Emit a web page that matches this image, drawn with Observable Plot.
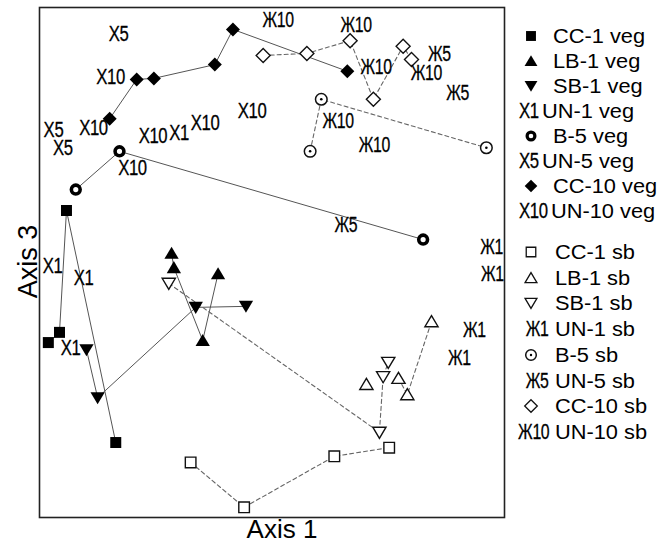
<!DOCTYPE html>
<html><head><meta charset="utf-8">
<script src="https://cdn.jsdelivr.net/npm/d3@7"></script>
<script src="https://cdn.jsdelivr.net/npm/@observablehq/plot@0.6"></script>
<style>
body{margin:0;background:#fff;}
#wrap{position:relative;width:669px;height:543px;font-family:"Liberation Sans",Arial,sans-serif;}
.row{position:absolute;left:0;width:669px;height:24px;}
.row > *{position:absolute;top:0;line-height:24px;white-space:nowrap;color:#000;}
.ltxt{font-size:20px;display:inline-block;transform:scaleX(1.09);transform-origin:0 50%;}
.lsym{font-size:22px;display:inline-block;letter-spacing:-0.5px;-webkit-text-stroke:0.3px #000;}
</style></head><body><div id="wrap"></div>
<script>
// ---- data (axis units: Axis 1 0–100, Axis 3 0–100) ----
const cc1Veg  = [[1.9,34.3],[4.3,36.3],[5.8,60.2],[16.4,14.7]];
const lb1Veg  = [[28.4,51.8],[28.9,49.0],[35.1,34.7],[38.4,47.8]];
const sb1Veg  = [[10.1,32.9],[12.5,23.5],[33.6,41.2],[44.4,41.4]];
const un1Veg  = [[2.8,49.4],[9.5,46.9],[6.7,33.3],[30.0,75.5]];
const b5Veg   = [[7.8,64.3],[17.2,71.8],[82.5,54.5]];
const un5Veg  = [[17.0,94.9],[3.0,75.9],[5.0,72.5]];
const cc10Veg = [[15.1,78.2],[20.9,85.9],[24.6,86.1],[37.7,88.8],[41.6,95.7],[66.2,87.5]];
const un10Veg = [[15.3,86.3],[11.6,76.3],[24.4,74.9],[35.6,77.3],[20.0,68.6],[45.7,79.8]];

const cc1Sb  = [[32.5,10.8],[44.0,2.0],[63.4,12.0],[75.2,13.7]];
const lb1Sb  = [[70.3,26.1],[77.2,27.3],[79.1,24.1],[84.3,38.4]];
const sb1Sb  = [[27.8,45.9],[73.1,16.7],[73.9,27.6],[75.0,30.4]];
const un1Sb  = [[97.2,53.1],[97.4,47.8],[93.5,36.7],[90.3,31.2]];
const b5Sb   = [[58.2,71.8],[60.6,82.0],[96.1,72.5]];
const un5Sb  = [[86.0,90.8],[89.9,83.3],[65.9,57.3]];
const cc10Sb = [[48.1,90.6],[57.5,91.0],[66.8,93.5],[71.8,82.0],[78.2,92.4],[80.0,89.8]];
const un10Sb = [[51.3,97.5],[68.1,96.5],[72.4,88.4],[83.2,87.1],[64.2,77.8],[72.0,73.1]];

const unlinked = {"LB-1 sb": [0]};   // points not joined by the path
const axisLabels = ["Axis 1", "Axis 3"];

// ---- symbols ----
const rad = s => Math.sqrt(s / Math.PI);
const SYM = {
  square:  {draw(c, s){const r = rad(s); c.rect(-r, -r, 2*r, 2*r);}},
  triUp:   {draw(c, s){const r = rad(s); c.moveTo(0, -r); c.lineTo(r*1.1, r*0.85); c.lineTo(-r*1.1, r*0.85); c.closePath();}},
  triDown: {draw(c, s){const r = rad(s); c.moveTo(0, r); c.lineTo(r*1.1, -r*0.85); c.lineTo(-r*1.1, -r*0.85); c.closePath();}},
  diamond: {draw(c, s){const r = rad(s); c.moveTo(0, -r); c.lineTo(r, 0); c.lineTo(0, r); c.lineTo(-r, 0); c.closePath();}}
};

const series = [
  {name:"CC-1 veg",  pts:cc1Veg,  type:"glyph", sym:"square",  r:5.5, filled:true},
  {name:"LB-1 veg",  pts:lb1Veg,  type:"glyph", sym:"triUp",   r:6.5, filled:true},
  {name:"SB-1 veg",  pts:sb1Veg,  type:"glyph", sym:"triDown", r:6.5, filled:true},
  {name:"UN-1 veg",  pts:un1Veg,  type:"label", mark:"X1"},
  {name:"B-5 veg",   pts:b5Veg,   type:"glyph", sym:"ring"},
  {name:"UN-5 veg",  pts:un5Veg,  type:"label", mark:"X5"},
  {name:"CC-10 veg", pts:cc10Veg, type:"glyph", sym:"diamond", r:7, filled:true},
  {name:"UN-10 veg", pts:un10Veg, type:"label", mark:"X10"},
  {name:"CC-1 sb",   pts:cc1Sb,   type:"glyph", sym:"square",  r:5.3, filled:false},
  {name:"LB-1 sb",   pts:lb1Sb,   type:"glyph", sym:"triUp",   r:6,   filled:false},
  {name:"SB-1 sb",   pts:sb1Sb,   type:"glyph", sym:"triDown", r:6,   filled:false},
  {name:"UN-1 sb",   pts:un1Sb,   type:"label", mark:"Ж1"},
  {name:"B-5 sb",    pts:b5Sb,    type:"glyph", sym:"dotring"},
  {name:"UN-5 sb",   pts:un5Sb,   type:"label", mark:"Ж5"},
  {name:"CC-10 sb",  pts:cc10Sb,  type:"glyph", sym:"diamond", r:7, filled:false},
  {name:"UN-10 sb",  pts:un10Sb,  type:"label", mark:"Ж10"}
];
const squeeze = m => m[0] === "Ж" ? 0.72 : 0.76;

const rows = s => s.pts.map(([x, y], i) => ({x, y, name: s.name, i}));
const lineRows = grp => series.filter(s => s.type === "glyph" && s.name.endsWith(grp))
  .flatMap(s => rows(s).filter(d => !(unlinked[s.name] || []).includes(d.i)));

const marks = [
  Plot.frame({stroke: "#222", strokeWidth: 1.6}),
  Plot.line(lineRows(" veg"), {x: "x", y: "y", z: "name", stroke: "#555", strokeWidth: 1}),
  Plot.line(lineRows(" sb"),  {x: "x", y: "y", z: "name", stroke: "#666", strokeWidth: 1.1, strokeDasharray: "4,3"})
];
for (const s of series) {
  if (s.type !== "glyph") continue;
  const data = rows(s);
  if (s.sym === "ring") {
    marks.push(Plot.dot(data, {x: "x", y: "y", symbol: "circle", r: 4.4, fill: "white", stroke: "#000", strokeWidth: 3.6}));
  } else if (s.sym === "dotring") {
    marks.push(Plot.dot(data, {x: "x", y: "y", symbol: "circle", r: 5.8, fill: "white", stroke: "#111", strokeWidth: 1.5}));
    marks.push(Plot.dot(data, {x: "x", y: "y", symbol: "circle", r: 1.3, fill: "#000", stroke: "none"}));
  } else {
    marks.push(Plot.dot(data, {x: "x", y: "y", symbol: SYM[s.sym], r: s.r,
      fill: s.filled ? "#000" : "white", stroke: s.filled ? "none" : "#111", strokeWidth: 1.4}));
  }
}
const labelData = series.filter(s => s.type === "label").flatMap(s => rows(s).map(d => ({...d, t: s.mark})));
marks.push(Plot.text(labelData, {x: "x", y: "y", text: "t", fontSize: 22, fill: "#000", stroke: "#000", strokeWidth: 0.3, lineAnchor: "middle"}));
marks.push(Plot.text([axisLabels[0]], {frameAnchor: "bottom", lineAnchor: "bottom", textAnchor: "middle", dy: 20, dx: 10, fontSize: 26, fill: "#000"}));
marks.push(Plot.text([axisLabels[1]], {frameAnchor: "left", lineAnchor: "bottom", textAnchor: "middle", rotate: -90, dx: -3, dy: -1, fontSize: 27, fill: "#000"}));

const chart = Plot.plot({
  width: 669, height: 543,
  marginLeft: 39, marginRight: 165, marginTop: 7, marginBottom: 26,
  x: {domain: [0, 100], axis: null},
  y: {domain: [0, 100], axis: null},
  style: {fontFamily: '"Liberation Sans", Arial, sans-serif', background: "white", overflow: "visible"},
  marks
});

// condense the point labels like the original
d3.select(chart).selectAll("text").each(function() {
  const txt = this.textContent;
  if (!/^[XЖ]\d+$/.test(txt)) return;
  let t = this.getAttribute("transform");
  if (!t) {
    t = `translate(${this.getAttribute("x") || 0},${this.getAttribute("y") || 0})`;
    this.removeAttribute("x"); this.removeAttribute("y");
  }
  this.setAttribute("transform", t + ` scale(${squeeze(txt)},1)`);
  this.style.letterSpacing = "-0.5px";
});

const wrap = document.getElementById("wrap");
wrap.append(chart);

// ---- legend ----
const leg = d3.select(wrap).append("div");
series.forEach((s, idx) => {
  const grp = idx < 8 ? 0 : 1, k = idx % 8;
  const cy = grp === 0 ? 36 + 25 * k : 252 + 25.7 * k;
  const row = leg.append("div").attr("class", "row").style("top", (cy - 12) + "px");
  let left;
  if (s.type === "label") {
    const el = row.append("span").attr("class", "lsym").text(s.mark)
      .style("transform", `scaleX(${squeeze(s.mark)})`);
    if (grp === 0) {
      el.style("left", "519px").style("transform-origin", "0 50%");
      const w = el.node().getBoundingClientRect().width;
      left = 519 + w + 3;
    } else {
      el.style("right", (669 - 549) + "px").style("transform-origin", "100% 50%");
      left = 555;
    }
  } else {
    const svg = row.append("svg").attr("width", 24).attr("height", 24).style("left", "519px");
    const g = svg.append("g").attr("transform", "translate(12,12)");
    if (s.sym === "ring") {
      g.append("circle").attr("r", 3.9).attr("fill", "white").attr("stroke", "#000").attr("stroke-width", 3.2);
    } else if (s.sym === "dotring") {
      g.append("circle").attr("r", 5.3).attr("fill", "white").attr("stroke", "#111").attr("stroke-width", 1.5);
      g.append("circle").attr("r", 1.2).attr("fill", "#000");
    } else {
      const rr = s.r * 0.9;
      g.append("path").attr("d", d3.symbol(SYM[s.sym], rr * rr * Math.PI)())
        .attr("fill", s.filled ? "#000" : "white").attr("stroke", s.filled ? "none" : "#111").attr("stroke-width", 1.3);
    }
    left = grp === 0 ? 553 : 555;
  }
  row.append("span").attr("class", "ltxt").style("left", left + "px").text(s.name);
});
</script></body></html>
